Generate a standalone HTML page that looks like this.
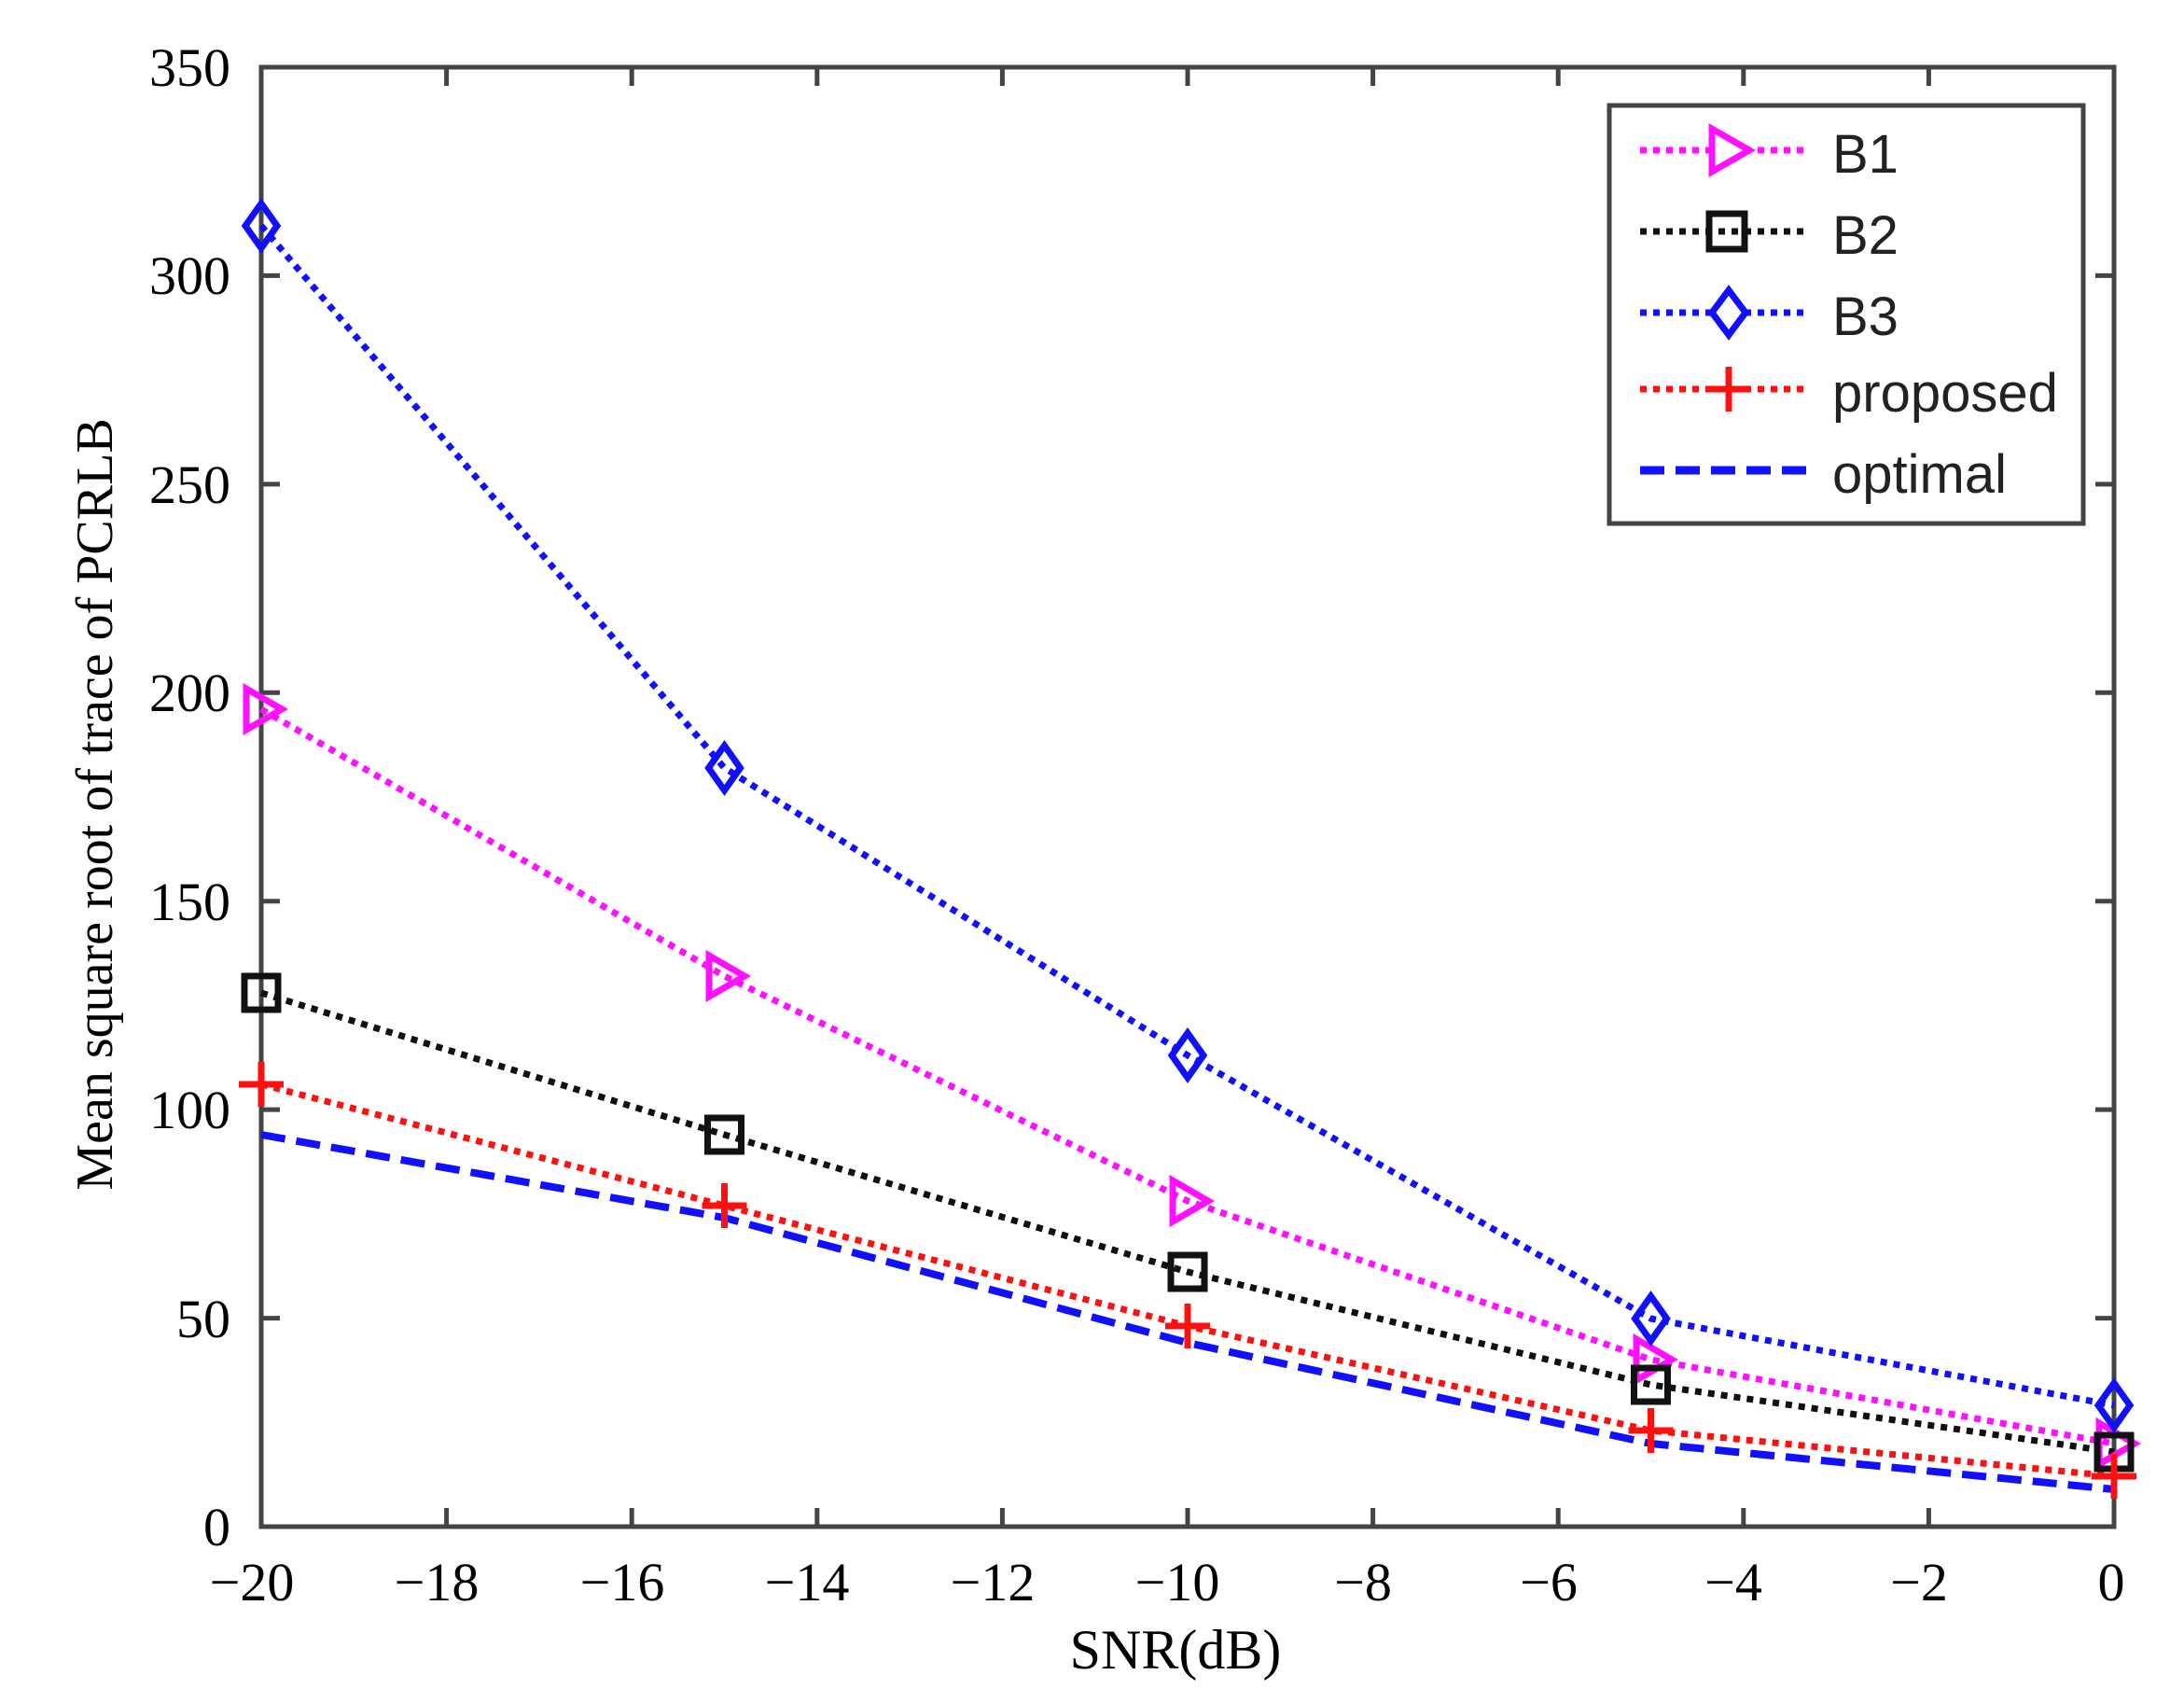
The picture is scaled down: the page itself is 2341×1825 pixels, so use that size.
<!DOCTYPE html>
<html><head><style>html,body{margin:0;padding:0;background:#fff;}svg{display:block;}</style></head>
<body>
<svg width="2341" height="1825" viewBox="0 0 2341 1825" xmlns="http://www.w3.org/2000/svg">
<rect width="2341" height="1825" fill="#fff"/>
<g stroke="#444" stroke-width="5" fill="none">
<rect x="280" y="72" width="1986" height="1564"/>
</g>
<g stroke="#444" stroke-width="5">
<path d="M478.6,1636v-20M677.2,1636v-20M875.8,1636v-20M1074.4,1636v-20M1273,1636v-20M1471.6,1636v-20M1670.2,1636v-20M1868.8,1636v-20M2067.4,1636v-20
M478.6,72v20M677.2,72v20M875.8,72v20M1074.4,72v20M1273,72v20M1471.6,72v20M1670.2,72v20M1868.8,72v20M2067.4,72v20"/>
<path d="M280,1412.6h20M280,1189.1h20M280,965.7h20M280,742.3h20M280,518.9h20M280,295.4h20
M2266,1412.6h-20M2266,1189.1h-20M2266,965.7h-20M2266,742.3h-20M2266,518.9h-20M2266,295.4h-20"/>
</g>
<g font-family="'Liberation Serif',serif" font-size="58" fill="#000" text-anchor="end">
<text x="247" y="1656">0</text>
<text x="247" y="1433">50</text>
<text x="247" y="1209">100</text>
<text x="247" y="986">150</text>
<text x="247" y="762">200</text>
<text x="247" y="539">250</text>
<text x="247" y="315">300</text>
<text x="247" y="92">350</text>
</g>
<g font-family="'Liberation Serif',serif" font-size="58" fill="#000" text-anchor="middle">
<text x="270" y="1715">−20</text>
<text x="468" y="1715">−18</text>
<text x="667" y="1715">−16</text>
<text x="865" y="1715">−14</text>
<text x="1064" y="1715">−12</text>
<text x="1262" y="1715">−10</text>
<text x="1461" y="1715">−8</text>
<text x="1660" y="1715">−6</text>
<text x="1858" y="1715">−4</text>
<text x="2057" y="1715">−2</text>
<text x="2263" y="1715">0</text>
<text x="1260" y="1788" font-size="60">SNR(dB)</text>
<text transform="translate(120,862) rotate(-90)" font-size="56">Mean square root of trace of PCRLB</text>
</g>
<g fill="none">
<polyline stroke="#1010ff" stroke-dasharray="26,12" stroke-width="8" points="280,1216 776.5,1305 1273,1439 1769.5,1547 2266,1596"/>
<polyline stroke="#ff1010" stroke-dasharray="7,7" stroke-width="7" points="280,1162 776.5,1292 1273,1421 1769.5,1533 2266,1582"/>
<polyline stroke="#111" stroke-dasharray="7,7" stroke-width="7" points="280,1064 776.5,1216 1273,1363 1769.5,1484 2266,1556"/>
<polyline stroke="#ff10ff" stroke-dasharray="7,7" stroke-width="7" points="280,760 776.5,1046 1273,1287 1769.5,1457 2266,1547"/>
<polyline stroke="#1010ff" stroke-dasharray="7,7" stroke-width="7" points="280,242 776.5,823 1273,1131 1769.5,1413 2266,1506"/>
</g>
<g fill="none" stroke-width="7">
<g stroke="#ff10ff">
<path d="M264,738L302,760L264,782Z"/><path d="M760,1024L798,1046L760,1068Z"/><path d="M1257,1265L1295,1287L1257,1309Z"/><path d="M1754,1435L1792,1457L1754,1479Z"/><path d="M2250,1525L2288,1547L2250,1569Z"/>
</g>
<g stroke="#111">
<rect x="262" y="1046" width="36" height="36"/><rect x="758.5" y="1198" width="36" height="36"/><rect x="1255" y="1345" width="36" height="36"/><rect x="1751.5" y="1466" width="36" height="36"/><rect x="2248" y="1538" width="36" height="36"/>
</g>
<g stroke="#1010ff">
<path d="M280,218l17,24l-17,24l-17,-24Z"/><path d="M776.5,799l17,24l-17,24l-17,-24Z"/><path d="M1273,1107l17,24l-17,24l-17,-24Z"/><path d="M1769.5,1389l17,24l-17,24l-17,-24Z"/><path d="M2266,1482l17,24l-17,24l-17,-24Z"/>
</g>
<g stroke="#ff1010">
<path d="M256,1162h48M280,1138v48M752.5,1292h48M776.5,1268v48M1249,1421h48M1273,1397v48M1745.5,1533h48M1769.5,1509v48M2242,1582h48M2266,1558v48"/>
</g>
</g>
<rect x="1725" y="113" width="508" height="448" fill="#fff" stroke="#444" stroke-width="5"/>
<g fill="none" stroke-width="7">
<line x1="1758" y1="161" x2="1936" y2="161" stroke="#ff10ff" stroke-dasharray="7,7"/>
<path d="M1835,138L1875,161L1835,184Z" stroke="#ff10ff" fill="#fff"/>
<line x1="1758" y1="248" x2="1936" y2="248" stroke="#111" stroke-dasharray="7,7"/>
<rect x="1832" y="229" width="38" height="38" stroke="#111"/>
<line x1="1758" y1="335" x2="1936" y2="335" stroke="#1010ff" stroke-dasharray="7,7"/>
<path d="M1853,311l18,24l-18,24l-18,-24Z" stroke="#1010ff" fill="#fff"/>
<line x1="1758" y1="417" x2="1936" y2="417" stroke="#ff1010" stroke-dasharray="7,7"/>
<path d="M1829,417h48M1853,393v48" stroke="#ff1010"/>
<line x1="1758" y1="504" x2="1936" y2="504" stroke="#1010ff" stroke-dasharray="26,12" stroke-width="9"/>
</g>
<g font-family="'Liberation Sans',sans-serif" font-size="58" fill="#222">
<text x="1964" y="185">B1</text>
<text x="1964" y="272">B2</text>
<text x="1964" y="359">B3</text>
<text x="1964" y="441">proposed</text>
<text x="1964" y="528">optimal</text>
</g>
</svg>
</body></html>
